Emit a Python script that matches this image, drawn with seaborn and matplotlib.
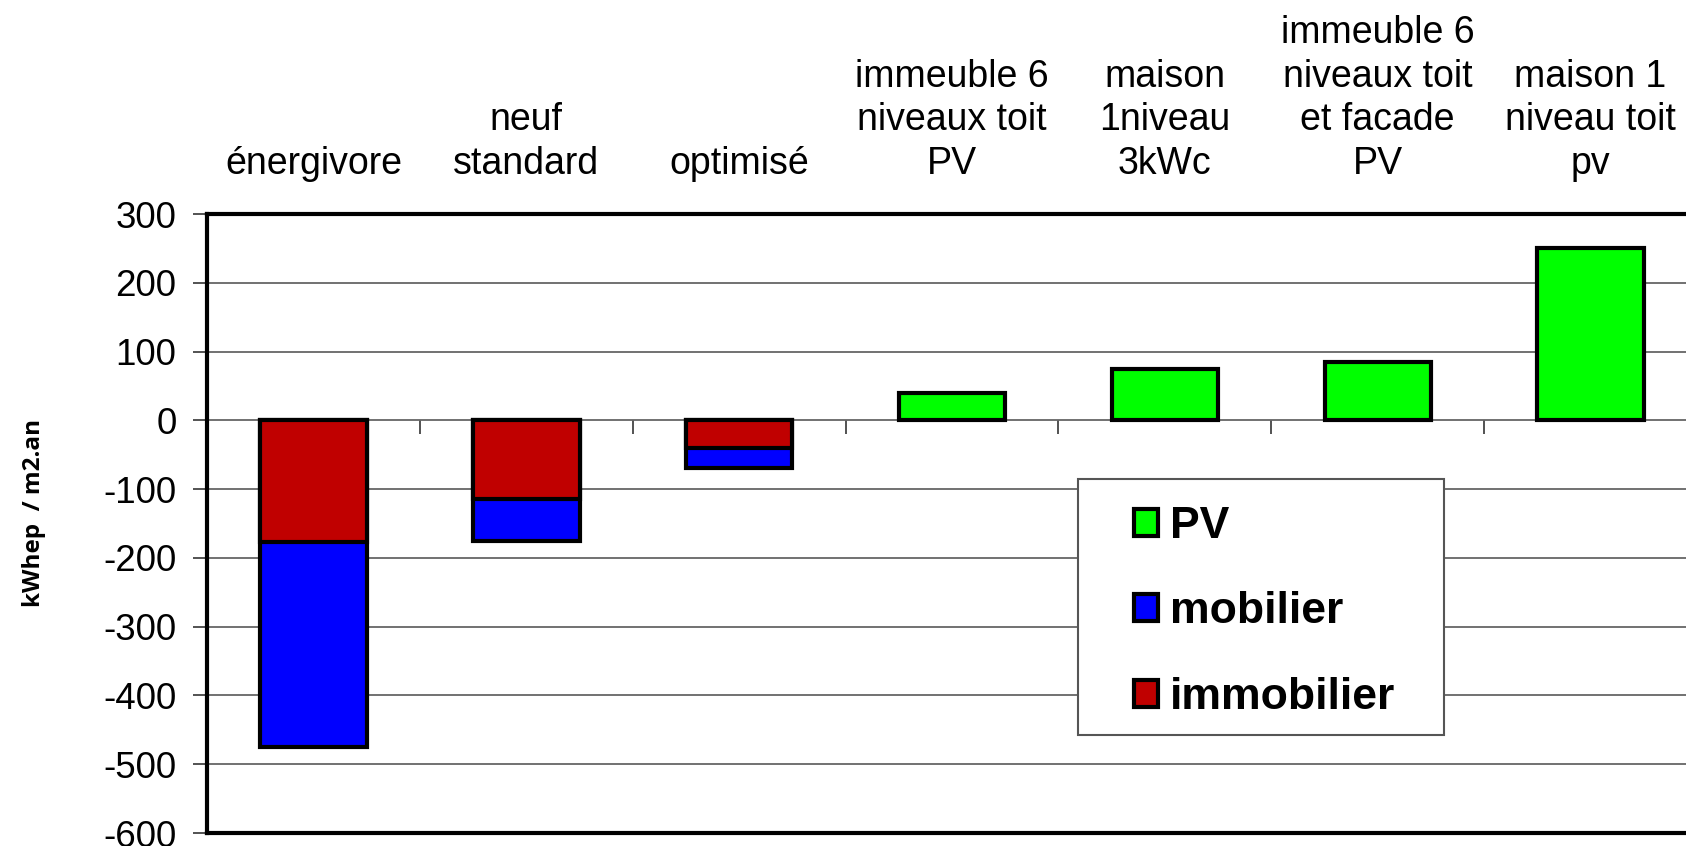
import matplotlib
matplotlib.use("Agg")
import matplotlib.pyplot as plt
import seaborn as sns
import pandas as pd
from matplotlib.patches import Patch, Rectangle

# data
categories = ["énergivore", "neuf\nstandard", "optimisé", "immeuble 6\nniveaux toit\nPV",
              "maison\n1niveau\n3kWc", "immeuble 6\nniveaux toit\net facade\nPV",
              "maison 1\nniveau toit\npv"]
cons_categories = categories[:3]
immobilier = [-177, -115, -40]
mobilier = [-298, -60, -30]
pv_categories = categories[3:]
pv = [40, 75, 85, 250]
y_ticks = [300, 200, 100, 0, -100, -200, -300, -400, -500, -600]

RED = "#C00000"
BLUE = "#0000FF"
GREEN = "#00FF00"


def setup_styles():
    sns.set_style("white")
    plt.rcParams["font.family"] = ["Liberation Sans", "DejaVu Sans"]
    plt.rcParams["text.color"] = "black"
    plt.rcParams["xtick.color"] = "black"
    plt.rcParams["ytick.color"] = "black"
    plt.rcParams["axes.labelcolor"] = "black"


def main():
    setup_styles()
    fig = plt.figure(figsize=(16.86, 8.46), dpi=100)
    ax = fig.add_axes([207 / 1686, 13 / 846, 1490 / 1686, 619 / 846])

    # stacked negative bars: total first (blue), then immobilier on top (red)
    totals = [a + b for a, b in zip(immobilier, mobilier)]
    cons_total = pd.DataFrame({"cat": cons_categories, "val": totals})
    cons_immo = pd.DataFrame({"cat": cons_categories, "val": immobilier})
    prod = pd.DataFrame({"cat": pv_categories, "val": pv})

    bar_kw = dict(x="cat", y="val", order=categories, width=0.5, saturation=1,
                  edgecolor="black", linewidth=3, ax=ax, zorder=3)
    sns.barplot(data=cons_total, color=BLUE, **bar_kw)
    sns.barplot(data=cons_immo, color=RED, **bar_kw)
    sns.barplot(data=prod, color=GREEN, **bar_kw)

    ax.set_xlim(-0.5, len(categories) - 0.5)
    ax.set_ylim(-600, 300)
    ax.set_yticks(y_ticks)
    ax.set_yticklabels([str(v) for v in y_ticks])
    ax.yaxis.grid(True, color="#666666", linewidth=1.3, zorder=0)
    ax.set_axisbelow(True)
    ax.tick_params(axis="y", direction="out", length=10, width=1.3, color="#444444",
                   labelsize=26.5, pad=12, left=True)

    ax.xaxis.tick_top()
    ax.set_xticks(range(len(categories)))
    ax.set_xticklabels(categories, fontsize=27, linespacing=1.27)
    ax.tick_params(axis="x", length=0, pad=23)
    ax.set_xlabel("")
    ax.set_ylabel("kWhep  / m2.an", family=["Open Sans", "DejaVu Sans"],
                  fontweight="bold", fontsize=17.5)
    ax.yaxis.set_label_coords(-0.108, 0.517)

    for side in ["left", "top", "bottom", "right"]:
        ax.spines[side].set_color("black")
        ax.spines[side].set_linewidth(3)

    # category separators on the zero line
    sec = ax.secondary_xaxis(2 / 3)
    sec.set_xticks([i + 0.5 for i in range(len(categories) - 1)])
    sec.tick_params(direction="in", length=10, width=1.3, color="#444444",
                    labeltop=False, labelbottom=False)
    for s in sec.spines.values():
        s.set_visible(False)

    # legend box
    fig.add_artist(Rectangle((1078 / 1686, 1 - 735 / 846), 366 / 1686, 256 / 846,
                             transform=fig.transFigure, facecolor="white",
                             edgecolor="#555555", linewidth=1.5, zorder=4))
    handles = [Patch(facecolor=GREEN, edgecolor="black", linewidth=3),
               Patch(facecolor=BLUE, edgecolor="black", linewidth=3),
               Patch(facecolor=RED, edgecolor="black", linewidth=3)]
    fig.legend(handles, ["PV", "mobilier", "immobilier"], loc="upper left",
               bbox_to_anchor=(1134 / 1686, 1 - 506 / 846), frameon=False,
               prop={"weight": "bold", "size": 32}, handlelength=0.55,
               handleheight=0.55, handletextpad=0.25, labelspacing=1.0,
               borderpad=0, borderaxespad=0)

    fig.savefig("out.png", dpi=100)
    plt.close(fig)


main()
